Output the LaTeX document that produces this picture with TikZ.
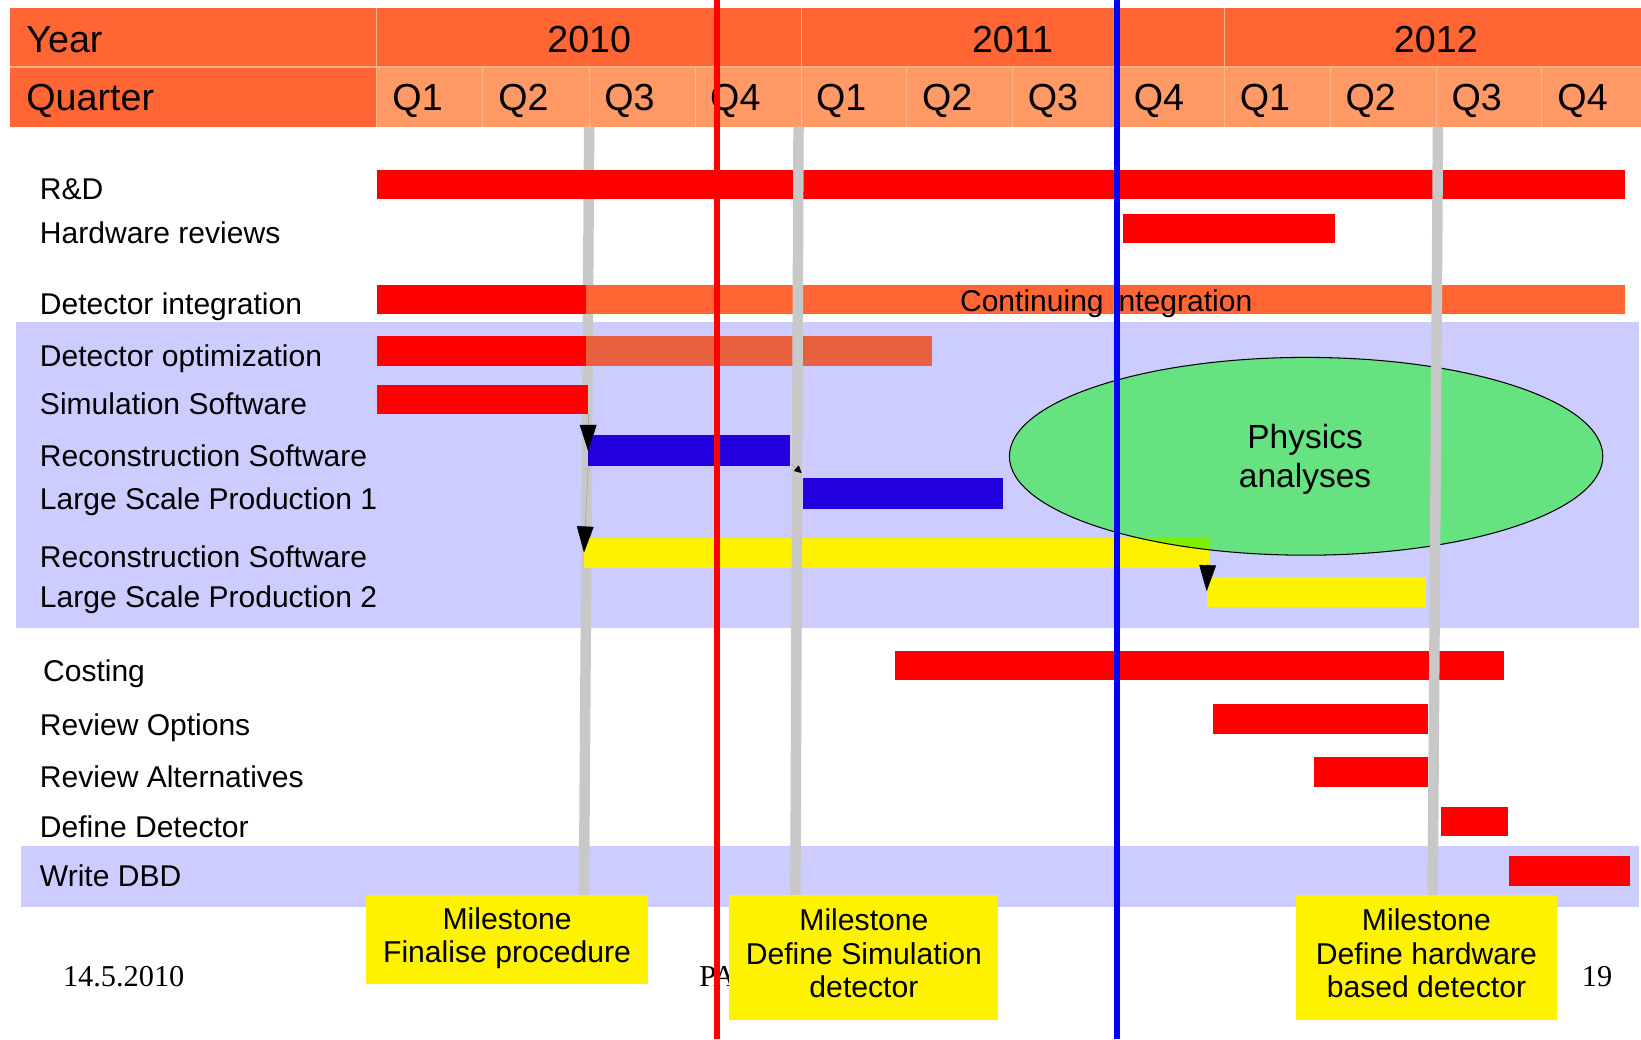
\documentclass[tikz,border=0pt]{standalone}
\usepackage{fontspec}
\setmainfont{Liberation Sans}
\newfontfamily\footfont{Liberation Serif}
\usetikzlibrary{arrows.meta,shapes.geometric}

\definecolor{hdrorange}{HTML}{FF6633}
\definecolor{qorange}{HTML}{FF9966}
\definecolor{hdrline}{HTML}{FFB38C}
\definecolor{bandblue}{HTML}{CCCCFF}
\definecolor{msgray}{HTML}{C8C8C8}
\definecolor{optsalmon}{HTML}{E9603F}
\definecolor{recoblue}{HTML}{2200DD}
\definecolor{physgreen}{HTML}{66E380}
\definecolor{limegreen}{HTML}{80EE00}

\begin{document}
\begin{tikzpicture}[x=1pt,y=-1pt,
  lbl/.style={anchor=west,inner sep=0pt,text height=20.6pt,text depth=0pt,font=\fontsize{28.7}{31}\selectfont},
  hdr/.style={inner sep=0pt,text height=25.4pt,text depth=0pt,font=\fontsize{36}{40}\selectfont},
  gline/.style={msgray,line width=10pt},
  msbox/.style={fill=yellow,inner sep=0pt},
  mstxt/.style={align=center,inner sep=0pt,font=\fontsize{28.8}{32}\selectfont},
  dep/.style={gray!70,line width=0.6pt,-{Triangle[width=16pt,length=25pt,fill=black,color=black]}}]
\useasboundingbox (0,0) rectangle (1568,993);

% header rows
\fill[hdrorange] (10,8) rectangle (1568,121);
\fill[qorange] (360,64) rectangle (1568,121);
\draw[hdrline,line width=1pt] (10,64) -- (1568,64);
\foreach \x in {360,766,1170} \draw[hdrline,line width=1pt] (\x,8) -- (\x,121);
\foreach \x in {461,563,664,866,967,1068,1271,1372,1473} \draw[hdrline] (\x,64) -- (\x,121);
\node[hdr,anchor=west] (year) at (25,37) {Year};
\node[hdr,anchor=west] (quarter) at (25,93) {Quarter};
\foreach \yr [count=\i from 0] in {2010,2011,2012}
  \node[hdr] (y\yr) at (563+404.5*\i,37) {\yr};
\foreach \q [count=\i from 0] in {1,2,3,4,1,2,3,4,1,2,3,4}
  \node[hdr] (q\i) at (399+101.2*\i,93) {Q\q};

% shaded groups
\fill[bandblue] (15,308) rectangle (1566,600);
\fill[bandblue] (20,808) rectangle (1566,867);

% first milestone line
\draw[gline] (563,121) -- (558,855);

% task bars
\fill[red] (360,162) rectangle (1553,190);
\fill[red] (1073,204) rectangle (1276,232);
\fill[red] (360,272) rectangle (560,300);
\fill[hdrorange] (560,272) rectangle (1553,300);
\fill[red] (360,321) rectangle (560,350);
\fill[optsalmon] (560,321) rectangle (891,350);
\fill[red] (360,368) rectangle (562,396);
\fill[recoblue] (562,416) rectangle (755,445);
\fill[recoblue] (767,457) rectangle (958,486);
\fill[yellow] (558,514) rectangle (1155,543);
\fill[yellow] (1153,551) rectangle (1363,580);
\fill[red] (855,622) rectangle (1437,650);
\fill[red] (1159,673) rectangle (1364,701);
\fill[red] (1256,723) rectangle (1364,752);
\fill[red] (1377,771) rectangle (1441,799);
\fill[red] (1442,818) rectangle (1557,847);

% physics ellipse
\fill[physgreen] (1248,436) ellipse [x radius=283.5pt,y radius=94.5pt];
\begin{scope}
  \clip (1248,436) ellipse [x radius=283.5pt,y radius=94.5pt];
  \fill[limegreen] (558,514) rectangle (1155,543);
\end{scope}
\node[ellipse,draw,line width=1pt,minimum width=567pt,minimum height=189pt,inner sep=0pt] (phys) at (1248,436) {};
\node[align=center,inner sep=0pt,font=\fontsize{32}{38}\selectfont] (physlbl) at (1247,439) {Physics\\analyses};

% other milestone lines
\draw[gline] (763,121) -- (760,855);
\draw[gline] (1374,121) -- (1369,855);

% row labels
\foreach \ty/\txt/\nm in {180/R\&D/rd, 222/Hardware reviews/hw, 290/Detector integration/integ,
    340/Detector optimization/optim, 386/Simulation Software/sim, 435/Reconstruction Software/recoA,
    477/Large Scale Production 1/lspA, 532/Reconstruction Software/recoB,
    570/Large Scale Production 2/lspB, 692/Review Options/opts, 742/Review Alternatives/alts,
    790/Define Detector/defdet, 837/Write DBD/dbd}
  \node[lbl] (l\nm) at (38,\ty) {\txt};
\node[lbl] (lcost) at (41,641) {Costing};
\node[lbl,anchor=center] (contint) at (1057,287) {Continuing integration};

% dependencies
\coordinate (simEnd) at (562,396);
\coordinate (recoAStart) at (562,431);
\coordinate (recoAFoot) at (562,446);
\coordinate (recoBStart) at (558,528);
\coordinate (recoAEnd) at (756,443);
\coordinate (lspAStart) at (766,452);
\coordinate (recoBEnd) at (1154,538);
\coordinate (lspBStart) at (1153,565);
\draw[dep] (simEnd) -- (recoAStart);
\draw[dep] (recoAFoot) -- (recoBStart);
\draw[gray!70,line width=0.6pt,-{Triangle[width=7pt,length=7pt,fill=black,color=black]}] (recoAEnd) -- (lspAStart);
\draw[dep] (recoBEnd) -- (lspBStart);

% footer
\node[font=\footfont\fontsize{29}{30}\selectfont,anchor=west,inner sep=0pt] (date) at (60,933) {14.5.2010};
\node[font=\footfont\fontsize{29}{30}\selectfont,anchor=west,inner sep=0pt] (pa) at (668,933) {PA};
\node[font=\footfont\fontsize{29}{30}\selectfont,inner sep=0pt] (page) at (1526,933) {19};

% milestone boxes
\node[msbox,minimum width=269pt,minimum height=85pt] (msA) at (484.5,897.5) {};
\node[mstxt] (msAtxt) at (484.5,896.5) {Milestone\\Finalise procedure};
\node[msbox,minimum width=257pt,minimum height=120pt] (msB) at (825.5,915) {};
\node[mstxt] (msBtxt) at (825.5,911) {Milestone\\Define Simulation\\detector};
\node[msbox,minimum width=250pt,minimum height=120pt] (msC) at (1363,915) {};
\node[mstxt] (msCtxt) at (1363,911) {Milestone\\Define hardware\\based detector};

% date markers
\draw[red,line width=6pt] (685,0) -- (685,993);
\draw[blue,line width=6pt] (1067,0) -- (1067,993);
\end{tikzpicture}
\end{document}
